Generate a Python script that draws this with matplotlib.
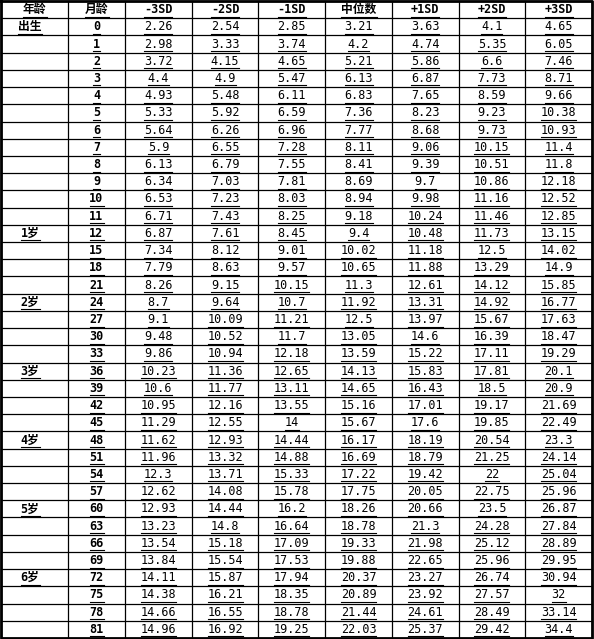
import matplotlib
matplotlib.use("Agg")
import matplotlib.pyplot as plt

headers = ["年龄", "月龄", "-3SD", "-2SD", "-1SD", "中位数", "+1SD", "+2SD", "+3SD"]
months = [0, 1, 2, 3, 4, 5, 6, 7, 8, 9, 10, 11, 12, 15, 18, 21, 24, 27, 30, 33,
          36, 39, 42, 45, 48, 51, 54, 57, 60, 63, 66, 69, 72, 75, 78, 81]
age_labels = {0: "出生", 12: "1岁", 24: "2岁", 36: "3岁", 48: "4岁", 60: "5岁", 72: "6岁"}
sd_m3 = ["2.26", "2.98", "3.72", "4.4", "4.93", "5.33", "5.64", "5.9", "6.13", "6.34", "6.53", "6.71",
         "6.87", "7.34", "7.79", "8.26", "8.7", "9.1", "9.48", "9.86", "10.23", "10.6", "10.95", "11.29",
         "11.62", "11.96", "12.3", "12.62", "12.93", "13.23", "13.54", "13.84", "14.11", "14.38", "14.66", "14.96"]
sd_m2 = ["2.54", "3.33", "4.15", "4.9", "5.48", "5.92", "6.26", "6.55", "6.79", "7.03", "7.23", "7.43",
         "7.61", "8.12", "8.63", "9.15", "9.64", "10.09", "10.52", "10.94", "11.36", "11.77", "12.16", "12.55",
         "12.93", "13.32", "13.71", "14.08", "14.44", "14.8", "15.18", "15.54", "15.87", "16.21", "16.55", "16.92"]
sd_m1 = ["2.85", "3.74", "4.65", "5.47", "6.11", "6.59", "6.96", "7.28", "7.55", "7.81", "8.03", "8.25",
         "8.45", "9.01", "9.57", "10.15", "10.7", "11.21", "11.7", "12.18", "12.65", "13.11", "13.55", "14",
         "14.44", "14.88", "15.33", "15.78", "16.2", "16.64", "17.09", "17.53", "17.94", "18.35", "18.78", "19.25"]
median = ["3.21", "4.2", "5.21", "6.13", "6.83", "7.36", "7.77", "8.11", "8.41", "8.69", "8.94", "9.18",
          "9.4", "10.02", "10.65", "11.3", "11.92", "12.5", "13.05", "13.59", "14.13", "14.65", "15.16", "15.67",
          "16.17", "16.69", "17.22", "17.75", "18.26", "18.78", "19.33", "19.88", "20.37", "20.89", "21.44", "22.03"]
sd_p1 = ["3.63", "4.74", "5.86", "6.87", "7.65", "8.23", "8.68", "9.06", "9.39", "9.7", "9.98", "10.24",
         "10.48", "11.18", "11.88", "12.61", "13.31", "13.97", "14.6", "15.22", "15.83", "16.43", "17.01", "17.6",
         "18.19", "18.79", "19.42", "20.05", "20.66", "21.3", "21.98", "22.65", "23.27", "23.92", "24.61", "25.37"]
sd_p2 = ["4.1", "5.35", "6.6", "7.73", "8.59", "9.23", "9.73", "10.15", "10.51", "10.86", "11.16", "11.46",
         "11.73", "12.5", "13.29", "14.12", "14.92", "15.67", "16.39", "17.11", "17.81", "18.5", "19.17", "19.85",
         "20.54", "21.25", "22", "22.75", "23.5", "24.28", "25.12", "25.96", "26.74", "27.57", "28.49", "29.42"]
sd_p3 = ["4.65", "6.05", "7.46", "8.71", "9.66", "10.38", "10.93", "11.4", "11.8", "12.18", "12.52", "12.85",
         "13.15", "14.02", "14.9", "15.85", "16.77", "17.63", "18.47", "19.29", "20.1", "20.9", "21.69", "22.49",
         "23.3", "24.14", "25.04", "25.96", "26.87", "27.84", "28.89", "29.95", "30.94", "32", "33.14", "34.4"]
value_cols = [sd_m3, sd_m2, sd_m1, median, sd_p1, sd_p2, sd_p3]

W, H = 594, 639
fig = plt.figure(figsize=(W / 100, H / 100), dpi=100)
ax = fig.add_axes([0, 0, 1, 1])
ax.set_xlim(0, W)
ax.set_ylim(H, 0)
ax.axis("off")

col_edges = [1, 68, 125] + [125 + (W - 2 - 125) * (i + 1) / 7 for i in range(7)]
nrows = len(months) + 1
row_h = (H - 2) / nrows
top = 1
fam = ["DejaVu Sans Mono", "Noto Sans CJK SC"]

for x in col_edges:
    ax.plot([x, x], [top, top + nrows * row_h], color="black", lw=0.9)
for r in range(nrows + 1):
    y = top + r * row_h
    ax.plot([col_edges[0], col_edges[-1]], [y, y], color="black", lw=0.9)
ax.plot([col_edges[0], col_edges[-1], col_edges[-1], col_edges[0], col_edges[0]],
        [top, top, top + nrows * row_h, top + nrows * row_h, top], color="black", lw=2)


def cell(txt, col, row, bold=False, cx=None):
    x = cx if cx is not None else (col_edges[col] + col_edges[col + 1]) / 2
    y = top + (row + 0.5) * row_h
    ax.text(x, y, txt, ha="center", va="center", fontsize=8.5, family=fam,
            fontweight="bold" if bold else "normal")
    cw = sum(12 if ord(c) > 255 else 7 for c in txt)
    ax.plot([x - cw / 2, x + cw / 2], [y + 7, y + 7], color="black", lw=0.8)


for c, h in enumerate(headers):
    cell(h, c, 0, bold=True)
for r, m in enumerate(months):
    if m in age_labels:
        cell(age_labels[m], 0, r + 1, bold=True, cx=30)
    cell(str(m), 1, r + 1, bold=True)
    for c, vals in enumerate(value_cols):
        cell(vals[r], c + 2, r + 1)

fig.savefig("out.png", dpi=100)
